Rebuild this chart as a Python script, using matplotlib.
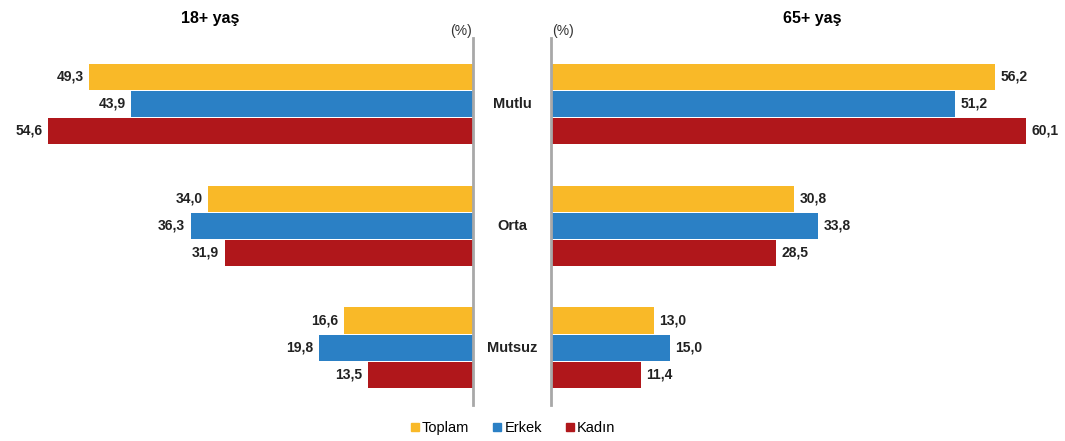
import numpy as np
import matplotlib
matplotlib.use("Agg")
import matplotlib.pyplot as plt
from matplotlib.lines import Line2D

plt.rcParams['font.family'] = ['Liberation Sans', 'DejaVu Sans']

categories = ['Mutlu', 'Orta', 'Mutsuz']
series = ['Toplam', 'Erkek', 'Kadın']
colors = ['#F9B928', '#2B80C5', '#B0171B']

age18_toplam = [49.3, 34.0, 16.6]
age18_erkek = [43.9, 36.3, 19.8]
age18_kadin = [54.6, 31.9, 13.5]

age65_toplam = [56.2, 30.8, 13.0]
age65_erkek = [51.2, 33.8, 15.0]
age65_kadin = [60.1, 28.5, 11.4]

left_vals = [age18_toplam, age18_erkek, age18_kadin]
right_vals = [age65_toplam, age65_erkek, age65_kadin]

W, H = 1065, 441
fig = plt.figure(figsize=(W / 100, H / 100), dpi=100)

bottom = 1 - 405 / H
top = 1 - 38 / H
ax_l = fig.add_axes([0, bottom, 473 / W, top - bottom])
ax_r = fig.add_axes([551 / W, bottom, (W - 551) / W, top - bottom])

ypos = np.arange(len(categories))
h = 0.222
offsets = [-h, 0, h]


def fmt(v):
    return f"{v:.1f}".replace('.', ',')


for ax, vals, side in [(ax_l, left_vals, 'left'), (ax_r, right_vals, 'right')]:
    for i, v in enumerate(vals):
        bars = ax.barh(ypos + offsets[i], v, height=h * 0.97, color=colors[i])
        for b, val in zip(bars, v):
            cy = b.get_y() + b.get_height() / 2
            if side == 'left':
                ax.annotate(fmt(val), (val, cy), xytext=(-4, 0), textcoords='offset points',
                            ha='right', va='center', fontsize=10, fontweight='bold', color='#222222')
            else:
                ax.annotate(fmt(val), (val, cy), xytext=(4, 0), textcoords='offset points',
                            ha='left', va='center', fontsize=10, fontweight='bold', color='#222222')
    ax.set_ylim(2.47, -0.54)
    ax.set_xticks([])
    ax.set_yticks([])
    for s in ax.spines.values():
        s.set_visible(False)

ax_l.set_xlim(473 / 7.78, 0)
ax_r.set_xlim(0, (W - 551) / 7.9)
ax_l.spines['right'].set_visible(True)
ax_l.spines['right'].set_color('#a8a8a8')
ax_l.spines['right'].set_linewidth(2)
ax_r.spines['left'].set_visible(True)
ax_r.spines['left'].set_color('#a8a8a8')
ax_r.spines['left'].set_linewidth(2)

# category labels in the middle gap
for i, c in enumerate(categories):
    ax_r.annotate(c, (0, ypos[i]), xytext=(-39 * 0.72, 0), textcoords='offset points',
                  ha='center', va='center', fontsize=10.5, fontweight='bold', color='#222222',
                  annotation_clip=False)

fig.text(210 / W, 1 - 18 / H, '18+ yaş', ha='center', va='center', fontsize=11.5, fontweight='bold')
fig.text(812 / W, 1 - 18 / H, '65+ yaş', ha='center', va='center', fontsize=11.5, fontweight='bold')
fig.text(472 / W, 1 - 31 / H, '(%)', ha='right', va='center', fontsize=10, color='#333333')
fig.text(552 / W, 1 - 31 / H, '(%)', ha='left', va='center', fontsize=10, color='#333333')

handles = [Line2D([0], [0], marker='s', color='none', markerfacecolor=c, markeredgecolor=c,
                  markersize=6) for c in colors]
fig.legend(handles, series, loc='center', bbox_to_anchor=(512 / W, 1 - 428 / H), ncol=3,
           frameon=False, fontsize=10.5, handletextpad=0.1, columnspacing=1.5, handlelength=0.8)

fig.savefig('out.png', dpi=100)
